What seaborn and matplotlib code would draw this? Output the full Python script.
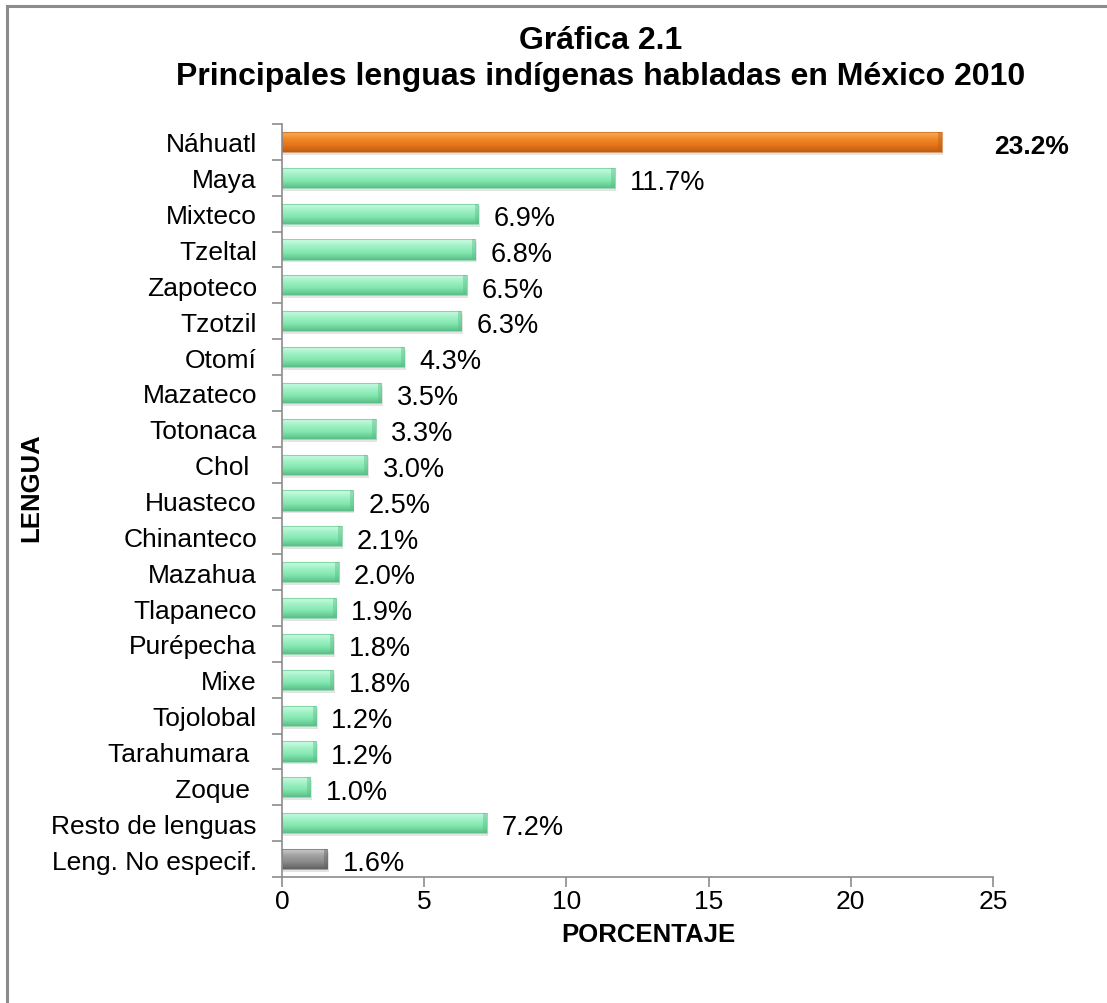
import matplotlib
matplotlib.use("Agg")
import matplotlib.pyplot as plt
import seaborn as sns
import numpy as np
import pandas as pd
from matplotlib.colors import LinearSegmentedColormap
from matplotlib.patches import Rectangle

lenguas = ["Náhuatl", "Maya", "Mixteco", "Tzeltal", "Zapoteco", "Tzotzil", "Otomí",
           "Mazateco", "Totonaca", "Chol ", "Huasteco", "Chinanteco", "Mazahua",
           "Tlapaneco", "Purépecha", "Mixe", "Tojolobal", "Tarahumara ", "Zoque ",
           "Resto de lenguas", "Leng. No especif."]
porcentaje = [23.2, 11.7, 6.9, 6.8, 6.5, 6.3, 4.3, 3.5, 3.3, 3.0, 2.5, 2.1, 2.0,
              1.9, 1.8, 1.8, 1.2, 1.2, 1.0, 7.2, 1.6]
etiquetas = ["23.2%", "11.7%", "6.9%", "6.8%", "6.5%", "6.3%", "4.3%", "3.5%", "3.3%",
             "3.0%", "2.5%", "2.1%", "2.0%", "1.9%", "1.8%", "1.8%", "1.2%", "1.2%",
             "1.0%", "7.2%", "1.6%"]
x_ticks = [0, 5, 10, 15, 20, 25]

grupo = ["orange"] + ["green"] * 19 + ["grey"]
df = pd.DataFrame({"lengua": lenguas, "pct": porcentaje, "grupo": grupo})

base = {"orange": "#E8761E", "green": "#8AEBB4", "grey": "#8E8E8E"}
grads = {
    "orange": ["#FAB468", "#F28C2C", "#E6741A", "#BE5E12"],
    "green": ["#CFFCE6", "#A2F2C6", "#80E6AE", "#5CBE88"],
    "grey": ["#D4D4D4", "#A4A4A4", "#8A8A8A", "#626262"],
}

sns.set_theme(style="white")
plt.rcParams["font.family"] = ["Liberation Sans", "DejaVu Sans"]
plt.rcParams["text.color"] = "black"
plt.rcParams["xtick.color"] = "black"
plt.rcParams["ytick.color"] = "black"
plt.rcParams["axes.labelcolor"] = "black"

fig = plt.figure(figsize=(11.07, 10.04), dpi=100)
ax = fig.add_axes([0.2547, 0.1255, 0.897 - 0.2547, 0.8755 - 0.1255])

palette = [base[g] for g in grupo]
sns.barplot(data=df, y="lengua", x="pct", hue="lengua", palette=palette,
            legend=False, ax=ax, width=0.56, orient="h", saturation=1)

ax.set_xlim(0, 25)
ax.set_ylim(len(lenguas) - 0.5, -0.5)

for patch, g in zip(ax.patches, grupo):
    x0, y0 = patch.get_x(), patch.get_y()
    w, h = patch.get_width(), patch.get_height()
    sh = Rectangle((x0 + 0.05, y0 + 0.08), w, h, facecolor="#CCCCCC", edgecolor="none",
                   alpha=0.55, zorder=1.5)
    ax.add_patch(sh)
    patch.set_zorder(2)
    cmap = LinearSegmentedColormap.from_list(g, grads[g])
    grad = np.linspace(0, 1, 64).reshape(-1, 1)
    im = ax.imshow(grad, cmap=cmap, aspect="auto",
                   extent=[x0, x0 + w, y0 + h, y0], origin="upper", zorder=2.1,
                   interpolation="bicubic")
    im.set_clip_path(patch)
    bw = min(0.12, w * 0.3)
    bev = Rectangle((x0 + w - bw, y0), bw, h, facecolor=grads[g][3], alpha=0.45,
                    edgecolor="none", zorder=2.2)
    ax.add_patch(bev)
    edge = Rectangle((x0, y0), w, h, facecolor="none", edgecolor=grads[g][3],
                     linewidth=0.8, alpha=0.6, zorder=2.3)
    ax.add_patch(edge)

ax.set_xlim(0, 25)
ax.set_ylim(len(lenguas) - 0.5, -0.5)

for i, (v, t) in enumerate(zip(porcentaje, etiquetas)):
    if i == 0:
        ax.annotate(t, xy=(25, i), xytext=(1, -3), textcoords="offset points",
                    ha="left", va="center", fontsize=19, fontweight="bold",
                    color="black", annotation_clip=False)
    else:
        ax.annotate(t, xy=(v, i), xytext=(11, -3), textcoords="offset points",
                    ha="left", va="center", fontsize=19.5, color="black")

for s in ["top", "right"]:
    ax.spines[s].set_visible(False)
for s in ["left", "bottom"]:
    ax.spines[s].set_visible(True)
    ax.spines[s].set_color("#8C8C8C")
    ax.spines[s].set_linewidth(1.2)

ax.set_xticks(x_ticks)
ax.set_xticklabels([str(t) for t in x_ticks], fontsize=19)
ax.set_yticks(range(len(lenguas)))
ax.set_yticklabels(lenguas, fontsize=19)
ax.tick_params(axis="y", length=0, pad=18)
ax.tick_params(axis="x", length=7, width=1.2, color="#8C8C8C", direction="out", pad=2,
               bottom=True)
ax.set_yticks(np.arange(-0.5, len(lenguas), 1), minor=True)
ax.tick_params(axis="y", which="minor", length=7, width=1.2, color="#8C8C8C",
               direction="out", left=True)

ax.set_xlabel("")
ax.set_ylabel("")
fig.text(0.5854, 0.0687, "PORCENTAJE", ha="center", va="center",
         fontsize=18.5, fontweight="bold", color="black")
fig.text(0.028, 0.514, "LENGUA", rotation=90, ha="center", va="center",
         fontsize=18.5, fontweight="bold", color="black")
ax.grid(False)

fig.text(0.543, 0.959, "Gráfica 2.1", ha="center", va="center", fontsize=23,
         fontweight="bold", color="black")
fig.text(0.543, 0.923, "Principales lenguas indígenas habladas en México 2010",
         ha="center", va="center", fontsize=23, fontweight="bold", color="black")

frame = Rectangle((7 / 1107, -0.01), 1.02, 1 - 7 / 1004 + 0.01, transform=fig.transFigure,
                  facecolor="none", edgecolor="#8C8C8C", linewidth=2.2, clip_on=False)
fig.patches.append(frame)

fig.savefig("out.png", dpi=100)
